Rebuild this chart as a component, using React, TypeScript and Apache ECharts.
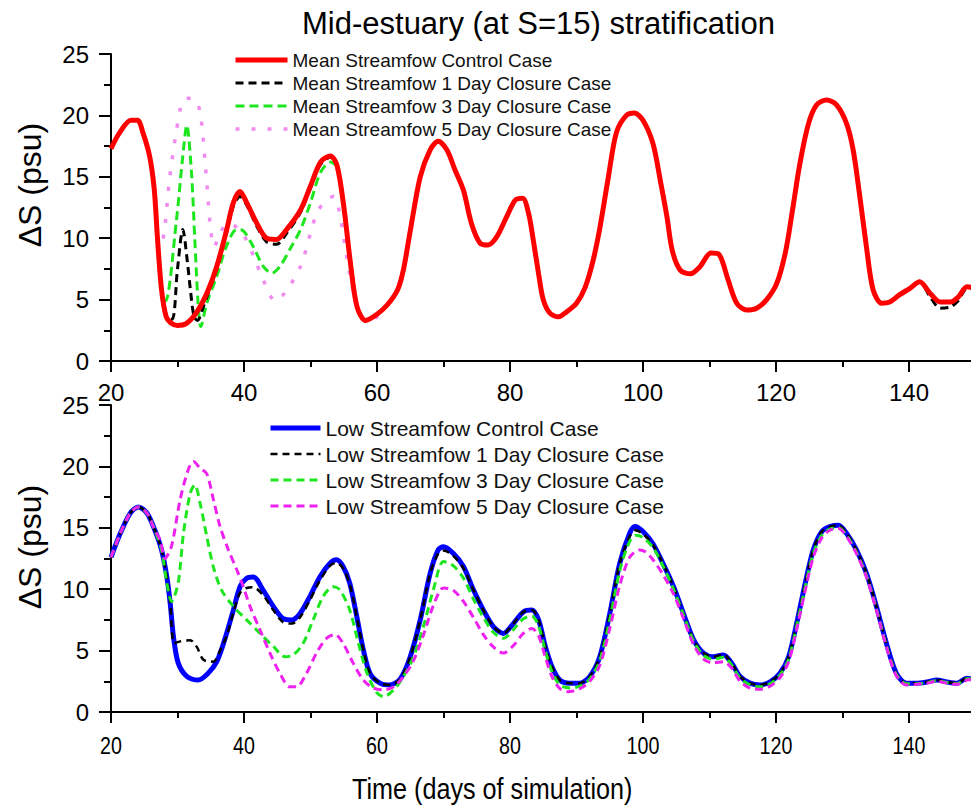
import React, { useEffect, useRef } from "react";
import * as echarts from "echarts";

// ---------- tick / axis settings ----------
const X_MIN = 20;
const X_MAX = 160;
const X_INTERVAL = 20;
const X_TICK_LABELS = [20, 40, 60, 80, 100, 120, 140];
const Y_MIN = 0;
const Y_MAX = 25;
const Y_INTERVAL = 5;

const TITLE = "Mid-estuary (at S=15) stratification";
const Y_NAME = "ΔS (psu)";
const X_NAME = "Time (days of simulation)";

const TOP_NAMES = [
  "Mean Streamfow Control Case",
  "Mean Streamfow 1 Day Closure Case",
  "Mean Streamfow 3 Day Closure Case",
  "Mean Streamfow 5 Day Closure Case",
];
const BOTTOM_NAMES = [
  "Low Streamfow Control Case",
  "Low Streamfow 1 Day Closure Case",
  "Low Streamfow 3 Day Closure Case",
  "Low Streamfow 5 Day Closure Case",
];

// ---------- Mean streamflow (top panel) ----------
const MEAN_CONTROL: number[][] = [
  [20, 17.3], [21.3, 18.6], [23, 19.6], [24, 19.6], [24.8, 18.6], [25.8, 16.7], [26.5, 14], [27, 9.9],
  [27.6, 5.8], [28.3, 3.6], [29, 3.1], [30, 2.9], [31.3, 3.05], [32.8, 3.9], [34.4, 5.5], [35.9, 7.7],
  [37.4, 10.7], [38.4, 12.9], [39.4, 13.8], [40.4, 12.9], [41.9, 11.25], [43.4, 10.0], [44.9, 9.9],
  [46.4, 10.7], [48.5, 12.3], [50, 14.25], [51.5, 16.2], [53, 16.7], [54, 15.9], [55, 12.6], [56, 8.0],
  [57, 4.4], [58.3, 3.3], [60, 3.8], [61.6, 4.6], [63.1, 5.8], [64, 7.5], [65, 10.6], [66.5, 15.0],
  [68, 17.2], [69.2, 17.9], [70.5, 17.2], [71.7, 15.6], [73, 13.9], [74.2, 11.2], [75.5, 9.6],
  [76.7, 9.45], [78, 10.1], [79.5, 11.75], [80.8, 13.1], [81.9, 13.25], [82.8, 12.0], [83.5, 9.85],
  [84.3, 7.1], [85, 5.0], [86, 3.9], [87.3, 3.6], [88.5, 4.0], [90, 4.7], [91.3, 6.0], [92.5, 8.2],
  [93.5, 10.8], [94.8, 15.0], [96, 18.6], [97.5, 20.0], [98.7, 20.2], [100, 19.6], [101.5, 17.7],
  [102.6, 14.7], [103.6, 11.75], [104.4, 9.0], [105.6, 7.4], [107.1, 7.1], [108.6, 7.7], [110.2, 8.8],
  [111.4, 8.7], [112.8, 6.6], [114.1, 4.7], [115.6, 4.15], [117.1, 4.3], [118.6, 5.0], [120.1, 6.3],
  [121.4, 8.8], [122.4, 12.0], [123.6, 16.1], [124.9, 19.35], [126.1, 20.85], [127.6, 21.25],
  [129.1, 20.85], [130.6, 19.35], [131.6, 17.2], [132.6, 13.4], [133.6, 9.3], [134.6, 5.8],
  [135.9, 4.7], [137.1, 4.8], [138.6, 5.4], [140.1, 5.9], [141.6, 6.45], [143.2, 5.5], [144.7, 4.8],
  [146.2, 4.8], [147.4, 5.2], [148.7, 6.05], [149.4, 6.0],
];
const MEAN_DAY1_OWN: number[][] = [
  [29.2, 3.4], [30, 7.5], [30.8, 10.7], [31.5, 8.0], [32, 5.5], [32.5, 3.6], [33, 3.3], [34, 4.6],
  [35.9, 7.5], [37.4, 10.5], [38.4, 12.6], [39.4, 13.4], [40.4, 12.7], [41.9, 11.0], [43.4, 9.7],
  [44.9, 9.5], [46.4, 10.4], [48.5, 12.1], [50, 14.1], [51.5, 16.0], [53, 16.6],
];
const MEAN_DAY1_TAIL: number[][] = [
  [143.2, 5.2], [144.7, 4.3], [146.2, 4.4], [147.4, 4.9], [148.7, 5.9], [149.4, 5.9],
];
const MEAN_DAY3_OWN: number[][] = [
  [28.2, 4.9], [29.8, 11.25], [30.8, 16.7], [31.4, 19.2], [32.1, 15.35], [32.6, 9.9], [33.1, 4.7],
  [33.5, 2.8], [34.4, 4.7], [35.9, 6.9], [37.4, 9.4], [38.9, 10.7], [39.9, 10.6], [41.4, 9.3],
  [42.9, 7.7], [44.2, 7.15], [45.4, 7.7], [46.9, 9.1], [48.5, 10.7], [50, 12.9], [51.5, 15.35],
  [53, 16.2], [54, 15.8],
];
const MEAN_DAY5_OWN: number[][] = [
  [27.5, 9.5], [28, 10.5], [28.8, 14.8], [29.8, 18.6], [30.8, 21.2], [32, 21.4], [32.6, 21.3],
  [33.4, 20.3], [34.2, 15.9], [34.9, 11.2], [35.5, 9.3], [36.5, 10.5], [37.5, 11.2], [38.6, 11.0],
  [39.9, 10.3], [41.4, 8.6], [42.9, 6.6], [44.7, 4.9], [46.2, 5.6], [48.5, 7.7], [50, 10.4],
  [51, 12.1], [52.5, 13.2], [53.5, 13.4], [54.5, 11.7], [55.5, 8.3], [56.5, 5.5], [57.5, 3.8],
  [58.5, 3.2], [60, 3.6],
];

// ---------- Low streamflow (bottom panel) ----------
const LOW_CONTROL: number[][] = [
  [20, 12.6], [21.4, 14.55], [22.9, 16.2], [24.1, 16.7], [25.4, 16.2], [26.6, 14.8], [27.6, 13.2],
  [28.4, 11.0], [28.9, 8.85], [29.4, 6.1], [30.1, 4.0], [31.4, 2.9], [33.1, 2.6], [34.6, 3.15],
  [35.9, 4.1], [37.1, 5.9], [38.4, 8.3], [39.4, 10.2], [40.4, 10.9], [41.4, 11.0], [42.9, 9.9],
  [44.4, 8.6], [45.9, 7.6], [47.2, 7.5], [48.4, 8.0], [49.9, 9.4], [51.4, 11.0], [52.9, 12.1],
  [53.9, 12.4], [54.9, 11.85], [55.9, 10.5], [56.95, 7.8], [57.95, 5.05], [58.95, 3.15], [60.45, 2.35],
  [61.96, 2.2], [63.5, 2.7], [65, 4.5], [66.5, 7.5], [68, 11.3], [69.2, 13.2], [70, 13.45], [71.5, 12.9],
  [73, 11.85], [74.5, 9.95], [76, 8.3], [77.5, 6.95], [79, 6.4], [80.5, 7.2], [82, 8.15], [83.3, 8.3],
  [84.3, 7.5], [85.3, 5.35], [86.3, 3.7], [87.5, 2.6], [89, 2.35], [90.5, 2.35], [92, 2.9], [93.5, 4.5],
  [95, 8.0], [96.5, 12.1], [98, 14.55], [98.8, 15.1], [100, 14.7], [101.5, 13.7], [103, 12.1],
  [104.6, 10.2], [106.1, 8.0], [107.6, 5.9], [109.1, 4.8], [110.6, 4.5], [112.1, 4.65], [113.3, 4.0],
  [114.6, 2.9], [116.1, 2.35], [117.6, 2.2], [119.1, 2.45], [120.6, 3.15], [121.9, 4.5], [123.1, 7.2],
  [124.4, 10.5], [125.6, 13.2], [126.9, 14.7], [128.1, 15.1], [129.4, 15.2], [130.6, 14.55],
  [132.1, 13.2], [133.6, 11.3], [135.1, 8.6], [136.6, 5.6], [138.1, 3.15], [139.6, 2.35], [141.1, 2.35],
  [142.7, 2.45], [144.2, 2.6], [145.7, 2.45], [147.2, 2.35], [148.7, 2.75], [149.4, 2.7],
];
const LOW_DAY1_OWN: number[][] = [
  [29.5, 5.6], [30.4, 5.75], [31.9, 5.85], [32.9, 5.3], [33.9, 4.25], [35.4, 4.1], [36.4, 5.0],
  [37.4, 6.2], [38.4, 8.1], [39.4, 9.7], [40.4, 10.1], [41.4, 10.15], [42.9, 9.5], [44.4, 8.3],
  [45.9, 7.3], [47.2, 7.2], [48.4, 7.7], [49.9, 9.1], [51.4, 10.7], [52.9, 11.9], [53.9, 12.15],
  [54.9, 11.7], [55.9, 10.4],
];
const LOW_DAY1_MID: number[][] = [
  [69.2, 12.9], [70, 13.15], [71.5, 12.7], [73, 11.7],
];
const LOW_DAY1_PEAK: number[][] = [
  [98, 14.3], [98.8, 14.8], [100, 14.5], [101.5, 13.6],
];
const LOW_DAY3: number[][] = [
  [20, 12.6], [21.4, 14.55], [22.9, 16.2], [24.1, 16.7], [25.4, 16.2], [26.6, 14.8], [27.6, 13.2],
  [28.4, 10.5], [29.1, 9.0], [30.1, 10.5], [30.9, 14.55], [31.9, 17.8], [32.6, 18.5], [33.4, 17.0],
  [34.4, 14.3], [35.4, 11.8], [36.6, 9.95], [38.4, 8.6], [40.4, 7.5], [42.4, 6.4], [44.4, 5.35],
  [46.2, 4.5], [47.4, 4.65], [48.9, 5.6], [50.4, 7.5], [51.9, 9.4], [53.4, 10.2], [54.4, 9.95],
  [55.9, 8.3], [57.2, 5.6], [58.5, 3.15], [60, 1.55], [61, 1.25], [62.5, 1.8], [64, 2.9], [65.5, 4.5],
  [67, 7.0], [68.5, 10.0], [70, 12.25], [71.5, 11.9], [73, 10.9], [74.5, 9.2], [76, 7.7], [77.5, 6.5],
  [79, 6.0], [80.5, 6.7], [82, 7.6], [83.3, 7.8], [84.3, 7.0], [85.3, 5.0], [86.3, 3.3], [87.5, 2.2],
  [89, 1.95], [90.5, 2.1], [92, 2.7], [93.5, 4.2], [95, 7.5], [96.5, 11.5], [98, 13.9], [99, 14.4],
  [100, 14.2], [101.5, 13.4], [103, 11.9], [104.6, 10.0], [106.1, 7.9], [107.6, 5.8], [109.1, 4.6],
  [110.6, 4.3], [112.1, 4.45], [113.3, 3.85], [114.6, 2.75], [116.1, 2.2], [117.6, 2.05], [119.1, 2.3],
  [120.6, 3.0], [121.9, 4.3], [123.1, 7.0], [124.4, 10.2], [125.6, 12.9], [126.9, 14.4], [128.1, 14.9],
  [129.4, 15.0], [130.6, 14.4], [132.1, 13.0], [133.6, 11.1], [135.1, 8.4], [136.6, 5.4], [138.1, 3.05],
  [139.6, 2.3], [141.1, 2.3], [142.7, 2.4], [144.2, 2.55], [145.7, 2.4], [147.2, 2.3], [148.7, 2.7],
  [149.4, 2.7],
];
const LOW_DAY5: number[][] = [
  [20, 12.6], [21.4, 14.55], [22.9, 16.2], [24.1, 16.7], [25.4, 16.2], [26.6, 14.8], [27.4, 14.0],
  [28.1, 12.5], [29.1, 13.5], [30.4, 17.3], [31.6, 19.7], [32.4, 20.4], [33.4, 19.85], [34.4, 19.4],
  [35.4, 17.3], [36.4, 15.1], [37.65, 13.2], [38.9, 11.6], [39.9, 10.2], [40.9, 8.6], [42.4, 6.7],
  [43.9, 4.8], [45.4, 3.15], [46.9, 2.05], [47.9, 2.05], [49.4, 3.15], [50.9, 4.8], [52.4, 6.0],
  [53.7, 6.3], [54.9, 5.6], [56.4, 4.0], [57.95, 2.6], [59.45, 1.95], [61, 1.8], [62.5, 2.05],
  [64, 2.9], [65.5, 4.2], [67, 6.3], [68.5, 8.7], [70, 10.1], [71.5, 9.9], [73, 9.0], [74.5, 7.7],
  [76, 6.3], [77.5, 5.3], [79, 4.8], [80.5, 5.4], [82, 6.4], [83.3, 6.8], [84.3, 6.2], [85.3, 4.5],
  [86.3, 2.9], [87.5, 1.9], [88.7, 1.65], [90.5, 1.9], [92, 2.5], [93.5, 3.8], [95, 6.8], [96.5, 10.3],
  [98, 12.6], [99.5, 13.2], [100.5, 13.0], [101.5, 12.4], [103, 11.2], [104.6, 9.6], [106.1, 7.6],
  [107.6, 5.5], [109.1, 4.3], [110.6, 4.0], [112.1, 4.1], [113.3, 3.6], [114.6, 2.5], [116.1, 1.95],
  [117.6, 1.85], [119.1, 2.1], [120.6, 2.8], [121.9, 4.1], [123.1, 6.7], [124.4, 9.9], [125.6, 12.6],
  [126.9, 14.2], [128.1, 14.8], [129.4, 14.95], [130.6, 14.3], [132.1, 12.9], [133.6, 11.0],
  [135.1, 8.3], [136.6, 5.3], [138.1, 2.95], [139.6, 2.2], [141.1, 2.25], [142.7, 2.35], [144.2, 2.5],
  [145.7, 2.35], [147.2, 2.25], [148.7, 2.6], [149.4, 2.65],
];

const seg = (src: number[][], from: number, to: number) => src.filter(([t]) => t >= from && t <= to);

const MEAN_DAY1 = [...seg(MEAN_CONTROL, 20, 28.3), ...MEAN_DAY1_OWN, ...seg(MEAN_CONTROL, 54, 141.6), ...MEAN_DAY1_TAIL];
const MEAN_DAY3 = [...seg(MEAN_CONTROL, 20, 27.6), ...MEAN_DAY3_OWN, ...seg(MEAN_CONTROL, 55, 150)];
const MEAN_DAY5 = [...seg(MEAN_CONTROL, 20, 27), ...MEAN_DAY5_OWN, ...seg(MEAN_CONTROL, 61.6, 150)];
const LOW_DAY1 = [
  ...seg(LOW_CONTROL, 20, 28.9), ...LOW_DAY1_OWN, ...seg(LOW_CONTROL, 56.9, 68), ...LOW_DAY1_MID,
  ...seg(LOW_CONTROL, 74.5, 96.5), ...LOW_DAY1_PEAK, ...seg(LOW_CONTROL, 103, 150),
];

// line styles per series: [color, width, dash]
const TOP_STYLES: [string, number, any][] = [
  ["#ff0000", 5, "solid"],
  ["#000000", 3, [8, 5]],
  ["#1ee61e", 3, [9, 5]],
  ["#f08cf0", 3.5, [4, 12]],
];
const BOTTOM_STYLES: [string, number, any][] = [
  ["#0000ff", 5, "solid"],
  ["#000000", 2.5, [7, 5]],
  ["#1ee61e", 3, [8, 5]],
  ["#ee22ee", 3, [8, 5]],
];

const FONT = "'Liberation Sans', Arial, sans-serif";

export default function App() {
  const ref = useRef<HTMLDivElement>(null);
  useEffect(() => {
    document.body.style.margin = "0";
    document.body.style.overflow = "hidden";
    if (!ref.current) return;
    const chart = echarts.init(ref.current, undefined, { renderer: "svg" });

    const xAxisBase = (gridIndex: number, showLabel: boolean) => ({
      type: "value",
      gridIndex,
      min: X_MIN,
      max: X_MAX,
      interval: X_INTERVAL,
      axisLine: { show: true, onZero: false, lineStyle: { color: "#000", width: 2 } },
      axisTick: { show: true, inside: false, length: 11, lineStyle: { color: "#000", width: 2 } },
      minorTick: { show: true, splitNumber: 2, length: 6, lineStyle: { color: "#000", width: 2 } },
      splitLine: { show: false },
      axisLabel: {
        show: showLabel,
        fontSize: 24,
        fontFamily: FONT,
        color: "#000",
        margin: 19,
        formatter: (v: number) => (v < 150 ? String(v) : ""),
      },
    });
    const yAxisBase = (gridIndex: number) => ({
      type: "value",
      gridIndex,
      min: Y_MIN,
      max: Y_MAX,
      interval: Y_INTERVAL,
      axisLine: { show: true, onZero: false, lineStyle: { color: "#000", width: 2 } },
      axisTick: { show: true, inside: false, length: 12, lineStyle: { color: "#000", width: 2 } },
      minorTick: { show: true, splitNumber: 2, length: 7, lineStyle: { color: "#000", width: 2 } },
      splitLine: { show: false },
      axisLabel: { fontSize: 24, fontFamily: FONT, color: "#000", margin: 22 },
    });

    const line = (name: string, data: number[][], xi: number, st: [string, number, any], z: number) => ({
      name,
      type: "line",
      xAxisIndex: xi,
      yAxisIndex: xi,
      data,
      showSymbol: false,
      symbol: "none",
      smooth: 0.3,
      z,
      lineStyle: { color: st[0], width: st[1], type: st[2] },
      itemStyle: { color: st[0] },
    });

    const legendData = (names: string[], styles: [string, number, any][]) =>
      names.map((name, i) => ({
        name,
        lineStyle: { color: styles[i][0], width: styles[i][1], type: styles[i][2] },
      }));

    const baseGraphic: any[] = [
      {
        type: "text",
        x: 30,
        y: 185,
        rotation: Math.PI / 2,
        style: { text: Y_NAME, font: `32px ${FONT}`, fill: "#000", align: "center", verticalAlign: "middle" },
      },
      {
        type: "text",
        x: 30,
        y: 547,
        rotation: Math.PI / 2,
        style: { text: Y_NAME, font: `32px ${FONT}`, fill: "#000", align: "center", verticalAlign: "middle" },
      },
      {
        type: "text",
        x: 352,
        y: 789,
        scaleX: 0.84,
        style: { text: X_NAME, font: `30px ${FONT}`, fill: "#000", align: "left", verticalAlign: "middle" },
      },
    ];

    chart.setOption({
      animation: false,
      backgroundColor: "#fff",
      title: {
        text: TITLE,
        left: 297,
        top: 3,
        textStyle: { fontFamily: FONT, fontSize: 31, fontWeight: "normal", color: "#000" },
      },
      grid: [
        { left: 111, top: 54, width: 931, height: 307 },
        { left: 111, top: 405, width: 931, height: 307 },
      ],
      xAxis: [xAxisBase(0, true), xAxisBase(1, false)],
      yAxis: [yAxisBase(0), yAxisBase(1)],
      legend: [
        {
          data: legendData(TOP_NAMES, TOP_STYLES),
          orient: "vertical",
          left: 233,
          top: 50,
          padding: 0,
          itemWidth: 52,
          itemHeight: 14,
          itemGap: 3,
          selectedMode: false,
          itemStyle: { opacity: 0 },
          textStyle: { fontFamily: FONT, fontSize: 19, color: "#111", lineHeight: 20 },
        },
        {
          data: legendData(BOTTOM_NAMES, BOTTOM_STYLES),
          orient: "vertical",
          left: 268,
          top: 417,
          padding: 0,
          itemWidth: 50,
          itemHeight: 14,
          itemGap: 4,
          selectedMode: false,
          itemStyle: { opacity: 0 },
          textStyle: { fontFamily: FONT, fontSize: 21, color: "#111", lineHeight: 22 },
        },
      ],
      graphic: baseGraphic,
      series: [
        line(TOP_NAMES[3], MEAN_DAY5, 0, TOP_STYLES[3], 2),
        line(TOP_NAMES[2], MEAN_DAY3, 0, TOP_STYLES[2], 3),
        line(TOP_NAMES[1], MEAN_DAY1, 0, TOP_STYLES[1], 4),
        line(TOP_NAMES[0], MEAN_CONTROL, 0, TOP_STYLES[0], 5),
        line(BOTTOM_NAMES[0], LOW_CONTROL, 1, BOTTOM_STYLES[0], 2),
        line(BOTTOM_NAMES[1], LOW_DAY1, 1, BOTTOM_STYLES[1], 3),
        line(BOTTOM_NAMES[2], LOW_DAY3, 1, BOTTOM_STYLES[2], 4),
        line(BOTTOM_NAMES[3], LOW_DAY5, 1, BOTTOM_STYLES[3], 5),
      ],
    });

    // bottom panel tick labels (narrow lettering), placed via the axis scale
    const labelGraphics = X_TICK_LABELS.map((v) => {
      const px = chart.convertToPixel({ xAxisIndex: 1 }, v) as number;
      return {
        type: "text",
        x: px,
        y: 746,
        scaleX: 0.82,
        style: { text: String(v), font: `24px ${FONT}`, fill: "#000", align: "center", verticalAlign: "middle" },
      };
    });
    chart.setOption({ graphic: [...baseGraphic, ...labelGraphics] });

    return () => chart.dispose();
  }, []);
  return (
    <div style={{ width: 971, height: 809, overflow: "hidden", position: "relative" }}>
      <div ref={ref} style={{ width: 1060, height: 809 }} />
    </div>
  );
}
